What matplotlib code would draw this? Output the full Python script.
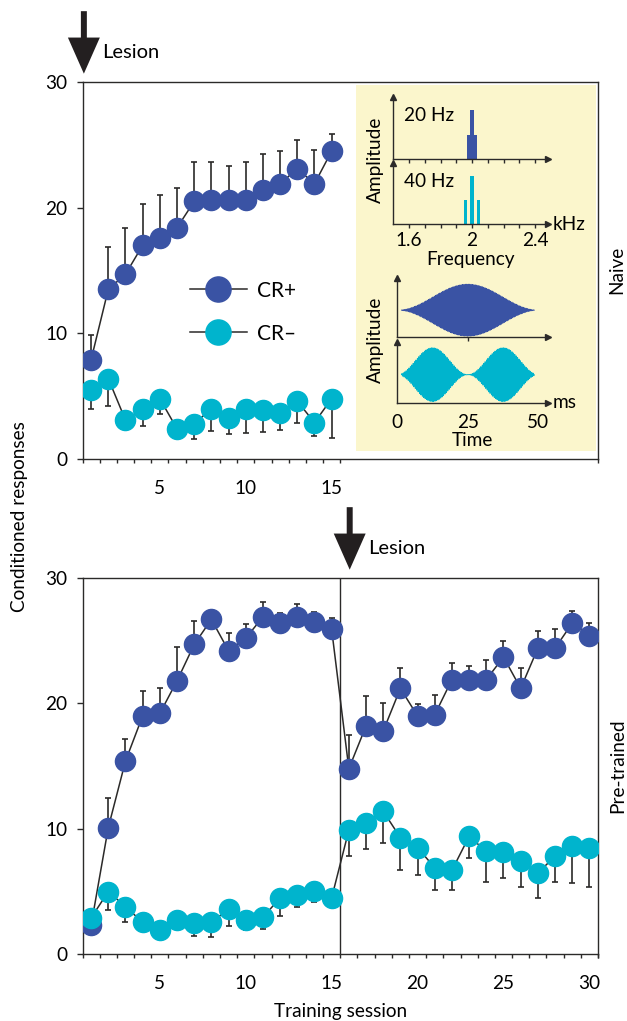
"""Conditioned responses before/after lesion, naive vs pre-trained animals."""

import matplotlib

matplotlib.use("Agg")
import matplotlib.pyplot as plt
import matplotlib.transforms as mtransforms
import numpy as np
from matplotlib.patches import Rectangle

plt.rcParams["font.family"] = ["Lato", "DejaVu Sans"]

# ---- data ---------------------------------------------------------------
naive_sessions = np.arange(1, 16)
naive_cr_plus = [7.9, 13.5, 14.7, 17.0, 17.6, 18.4, 20.5, 20.6, 20.6, 20.6,
                 21.4, 21.9, 23.1, 21.9, 24.5]
naive_cr_plus_err = [1.95, 3.4, 3.7, 3.3, 3.4, 3.2, 3.1, 3.05, 2.7, 3.0,
                     2.9, 2.6, 2.3, 2.7, 1.4]
naive_cr_minus = [5.5, 6.4, 3.1, 4.0, 4.8, 2.4, 2.8, 4.0, 3.3, 4.0,
                  3.9, 3.7, 4.6, 2.9, 4.8]
naive_cr_minus_err = [1.5, 2.2, 0.6, 1.4, 1.2, 0.7, 1.2, 1.8, 1.3, 1.9,
                      1.75, 1.4, 1.75, 1.1, 3.1]

pre_sessions = np.arange(1, 31)
pre_cr_plus = [2.3, 10.1, 15.4, 19.0, 19.2, 21.8, 24.7, 26.7, 24.2, 25.2,
               26.9, 26.4, 26.9, 26.5, 25.9, 14.8, 18.2, 17.8, 21.2, 19.0,
               19.1, 21.9, 21.9, 21.9, 23.7, 21.2, 24.4, 24.4, 26.4, 25.4]
pre_cr_plus_err = [0.5, 2.4, 1.8, 2.0, 2.0, 2.7, 1.85, 0.5, 1.4, 1.1,
                   1.15, 0.8, 1.0, 0.8, 0.9, 2.7, 2.4, 2.2, 1.6, 0.95,
                   1.6, 1.3, 1.1, 1.6, 1.25, 1.6, 1.35, 1.5, 0.95, 1.0]
pre_cr_minus = [2.9, 5.0, 3.8, 2.55, 1.95, 2.75, 2.5, 2.55, 3.6, 2.75,
                2.95, 4.5, 4.7, 5.05, 4.5, 9.9, 10.5, 11.4, 9.3, 8.5,
                6.9, 6.7, 9.4, 8.2, 8.15, 7.4, 6.5, 7.8, 8.6, 8.5]
pre_cr_minus_err = [0.5, 1.5, 1.2, 0.5, 0.5, 0.5, 1.05, 1.15, 1.35, 0.85,
                    0.9, 1.45, 0.95, 0.85, 0.5, 2.1, 2.1, 2.55, 2.55, 2.2,
                    1.8, 1.6, 1.75, 2.4, 2.1, 2.0, 2.05, 2.0, 2.95, 3.1]

lesion_naive = 0.5
lesion_pre = 15.5

# stimulus schematic: 2 kHz carrier, amplitude-modulated at 20 / 40 Hz
carrier_khz = 2.0
mod_rates_hz = [20, 40]
sideband_amp = [0.5, 1.0, 0.5]

# ---- style ---------------------------------------------------------------
DARK = "#2b2a29"
BLUE = "#3a53a4"
CYAN = "#00b4cd"
YELLOW = "#fbf6cc"
FS = 13.7

W, H = 627, 1021


def fig_rect(left, top, right, bottom):
    """Pixel box -> figure fraction rect."""
    return [left / W, 1 - bottom / H, (right - left) / W, (bottom - top) / H]


fig = plt.figure(figsize=(W / 100, H / 100), dpi=100)
ax_top = fig.add_axes(fig_rect(82.5, 82, 598, 459))
ax_bot = fig.add_axes(fig_rect(82.5, 578, 598, 954.3))


def draw_series(ax, x, y, err, color, up, label):
    lo = np.zeros(len(err))
    yerr = [lo, err] if up else [err, lo]
    ax.errorbar(x, y, yerr=yerr, fmt="none", ecolor=DARK, elinewidth=1.2,
                capsize=2.4, capthick=1.2, zorder=2)
    line, = ax.plot(x, y, "-o", color=DARK, lw=1.1, ms=14.5,
                    markerfacecolor=color, markeredgecolor=color, zorder=3,
                    label=label)
    return line


def style_main(ax, last_tick, major):
    for s in ax.spines.values():
        s.set_linewidth(1.0)
        s.set_color(DARK)
    ax.set_xlim(0.5, 30.5)
    ax.set_ylim(0, 30)
    ax.set_yticks([0, 10, 20, 30])
    ax.set_xticks(major)
    ax.set_xticks(list(np.arange(0.5, last_tick + 1)) + [30.5], minor=True)
    ax.tick_params(axis="y", direction="out", length=4, width=1.0,
                   color=DARK, labelsize=FS, pad=7)
    ax.tick_params(axis="x", which="major", length=0, labelsize=FS, pad=15)
    ax.tick_params(axis="x", which="minor", direction="out", length=3,
                   width=1.0, color=DARK)


# ---- top panel: naive ----------------------------------------------------
h_plus = draw_series(ax_top, naive_sessions, naive_cr_plus, naive_cr_plus_err,
                     BLUE, True, "CR+")
h_minus = draw_series(ax_top, naive_sessions, naive_cr_minus,
                      naive_cr_minus_err, CYAN, False, "CR\u2013")
style_main(ax_top, 15.5, [5, 10, 15])
ax_top.add_patch(Rectangle((0.531, 0.021), 0.465, 0.971,
                           transform=ax_top.transAxes, facecolor=YELLOW,
                           edgecolor="none", zorder=0))
ax_top.legend(handles=[h_plus, h_minus], loc="upper left",
              bbox_to_anchor=(0.208, 0.473), frameon=False, fontsize=15,
              handlelength=2.75, handletextpad=0.5, labelspacing=1.1,
              markerscale=1.25, borderpad=0, borderaxespad=0)

# ---- bottom panel: pre-trained -------------------------------------------
draw_series(ax_bot, pre_sessions, pre_cr_plus, pre_cr_plus_err, BLUE, True,
            "CR+")
draw_series(ax_bot, pre_sessions, pre_cr_minus, pre_cr_minus_err, CYAN, False,
            "CR\u2013")
style_main(ax_bot, 30.5, [5, 10, 15, 20, 25, 30])
ax_bot.axvline(lesion_pre, color=DARK, lw=1.0, zorder=1)
ax_bot.set_xlabel("Training session", fontsize=FS, labelpad=8)

# ---- lesion arrows -------------------------------------------------------
arrow_kw = dict(facecolor="#231f20", edgecolor="none", width=4.3,
                headwidth=23, headlength=26, shrink=0)
for ax, x in [(ax_top, lesion_naive + 0.08), (ax_bot, lesion_pre + 0.55)]:
    tip_tr = mtransforms.offset_copy(ax.get_xaxis_transform(), fig=fig,
                                     x=0, y=6, units="points")
    ax.annotate("", xy=(x, 1.0), xycoords=tip_tr, xytext=(0, 45),
                textcoords="offset points", arrowprops=arrow_kw,
                annotation_clip=False)
    ax.annotate("Lesion", xy=(x, 1.0), xycoords=tip_tr, xytext=(13.5, 15.5),
                textcoords="offset points", ha="left", va="center",
                fontsize=14.5, annotation_clip=False)

fig.text(20 / W, 1 - 517 / H, "Conditioned responses", rotation=90,
         ha="center", va="center", fontsize=FS)
fig.text(617 / W, 1 - 270 / H, "Naive", rotation=90, ha="center",
         va="center", fontsize=FS)
fig.text(618 / W, 1 - 766 / H, "Pre-trained", rotation=90, ha="center",
         va="center", fontsize=FS)

# ---- inset: stimulus spectra and waveforms -------------------------------
spec_axes = [fig.add_axes(fig_rect(393.3, 96.7, 548.3, 159.3), facecolor="none"),
             fig.add_axes(fig_rect(393.3, 163.3, 548.3, 224), facecolor="none")]
time_axes = [fig.add_axes(fig_rect(397.3, 278.3, 548.3, 337.3), facecolor="none"),
             fig.add_axes(fig_rect(397.3, 341.7, 548.3, 402.7), facecolor="none")]


def style_inset(ax):
    for side in ["top", "right"]:
        ax.spines[side].set_visible(False)
    for side in ["left", "bottom"]:
        ax.spines[side].set_linewidth(1.0)
        ax.spines[side].set_color(DARK)
    ax.plot(1, 0, ">", color=DARK, ms=5, transform=ax.transAxes, clip_on=False)
    ax.plot(0, 1, "^", color=DARK, ms=5, transform=ax.transAxes, clip_on=False)
    ax.set_yticks([])
    ax.tick_params(axis="x", direction="out", length=3, width=1.0,
                   color=DARK, labelsize=FS, pad=3)


freq_ticks = np.round(np.arange(1.6, 2.41, 0.1), 1)
freq_labels = ["1.6" if f == 1.6 else "2" if f == 2.0 else "2.4" if f == 2.4
               else "" for f in freq_ticks]
for ax, rate, color in zip(spec_axes, mod_rates_hz, [BLUE, CYAN]):
    df = rate / 1000
    freqs = [carrier_khz - df, carrier_khz, carrier_khz + df]
    ax.bar(freqs, sideband_amp, width=0.02, color=color, linewidth=0)
    ax.set_xlim(1.5, 2.484)
    ax.set_ylim(0, 1.27)
    style_inset(ax)
    ax.set_xticks(freq_ticks)
    ax.text(0.07, 0.7, f"{rate} Hz", transform=ax.transAxes, fontsize=FS,
            ha="left", va="center")
spec_axes[0].set_xticklabels([])
spec_axes[1].set_xticklabels(freq_labels)
spec_axes[1].annotate("kHz", xy=(1, 0), xycoords="axes fraction",
                      xytext=(3, 0), textcoords="offset points",
                      ha="left", va="center", fontsize=FS)
spec_axes[1].set_xlabel("Frequency", fontsize=FS, labelpad=1)

t_ms = np.linspace(1.5, 48.5, 20000)
for ax, rate, color in zip(time_axes, mod_rates_hz, [BLUE, CYAN]):
    env = 0.5 * (1 - np.cos(2 * np.pi * rate * t_ms / 1000))
    ax.plot(t_ms, env * np.sin(2 * np.pi * carrier_khz * t_ms), color=color,
            lw=0.7)
    ax.set_xlim(0, 53.5)
    ax.set_ylim(-1.045, 1.227)
    style_inset(ax)
time_axes[0].set_xticks([25])
time_axes[0].set_xticklabels([])
time_axes[1].set_xticks([0, 25, 50])
time_axes[1].tick_params(axis="x", length=0, pad=8)
time_axes[1].annotate("ms", xy=(1, 0), xycoords="axes fraction",
                      xytext=(3, 0), textcoords="offset points",
                      ha="left", va="center", fontsize=FS)
time_axes[1].set_xlabel("Time", fontsize=FS, labelpad=1)

fig.text(375 / W, 1 - 160 / H, "Amplitude", rotation=90, ha="center",
         va="center", fontsize=FS)
fig.text(375 / W, 1 - 340 / H, "Amplitude", rotation=90, ha="center",
         va="center", fontsize=FS)

fig.savefig("out.png", dpi=100)
